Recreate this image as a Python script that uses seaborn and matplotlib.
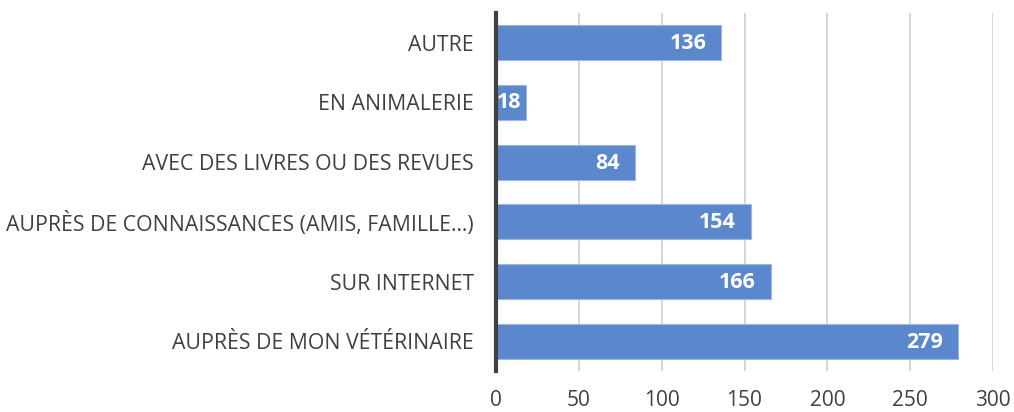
import matplotlib
matplotlib.use("Agg")
import matplotlib.pyplot as plt
import seaborn as sns
import pandas as pd

categories = [
    "AUTRE",
    "EN ANIMALERIE",
    "AVEC DES LIVRES OU DES REVUES",
    "AUPRÈS DE CONNAISSANCES (AMIS, FAMILLE…)",
    "SUR INTERNET",
    "AUPRÈS DE MON VÉTÉRINAIRE",
]
values = [136, 18, 84, 154, 166, 279]
x_ticks = [0, 50, 100, 150, 200, 250, 300]

sns.set_theme(style="white")
plt.rcParams["font.family"] = ["Open Sans", "DejaVu Sans"]

df = pd.DataFrame({"cat": categories, "val": values})

fig = plt.figure(figsize=(10.14, 4.12), dpi=100)
ax = fig.add_axes([496 / 1014, 41 / 412, 497 / 1014, 358 / 412])

sns.barplot(data=df, x="val", y="cat", orient="h", color="#5b87cc",
            saturation=1, width=0.59, edgecolor="#9db6e2", linewidth=0.8,
            ax=ax, zorder=3)

ax.set_xlim(0, 300)
ax.set_ylim(len(categories) - 0.5, -0.5)
ax.set_xticks(x_ticks)
ax.set_xticklabels([str(t) for t in x_ticks], fontsize=15, color="#404040")
ax.set_yticklabels(categories, fontsize=15.3, color="#404040")
ax.tick_params(axis="both", length=0)
ax.tick_params(axis="y", pad=16)
ax.tick_params(axis="x", pad=14)
ax.set_xlabel("")
ax.set_ylabel("")
ax.xaxis.grid(True, color="#d0d0d0", linewidth=1.2, zorder=0)
ax.yaxis.grid(False)
for s in ["top", "right", "bottom"]:
    ax.spines[s].set_visible(False)
ax.spines["left"].set_color("#404040")
ax.spines["left"].set_linewidth(3)
ax.spines["left"].set_zorder(5)

px_per_unit = 497 / 300
for i, v in enumerate(values):
    if v * px_per_unit - 15 < 28:
        ax.annotate(str(v), (0, i), xytext=(1, 0), textcoords="offset pixels",
                    ha="left", va="center", color="white", fontsize=15.5,
                    fontweight="bold", zorder=6)
    else:
        ax.annotate(str(v), (v, i), xytext=(-15, -1), textcoords="offset pixels",
                    ha="right", va="center", color="white", fontsize=15.5,
                    fontweight="bold", zorder=6)

fig.savefig("out.png", dpi=100)
